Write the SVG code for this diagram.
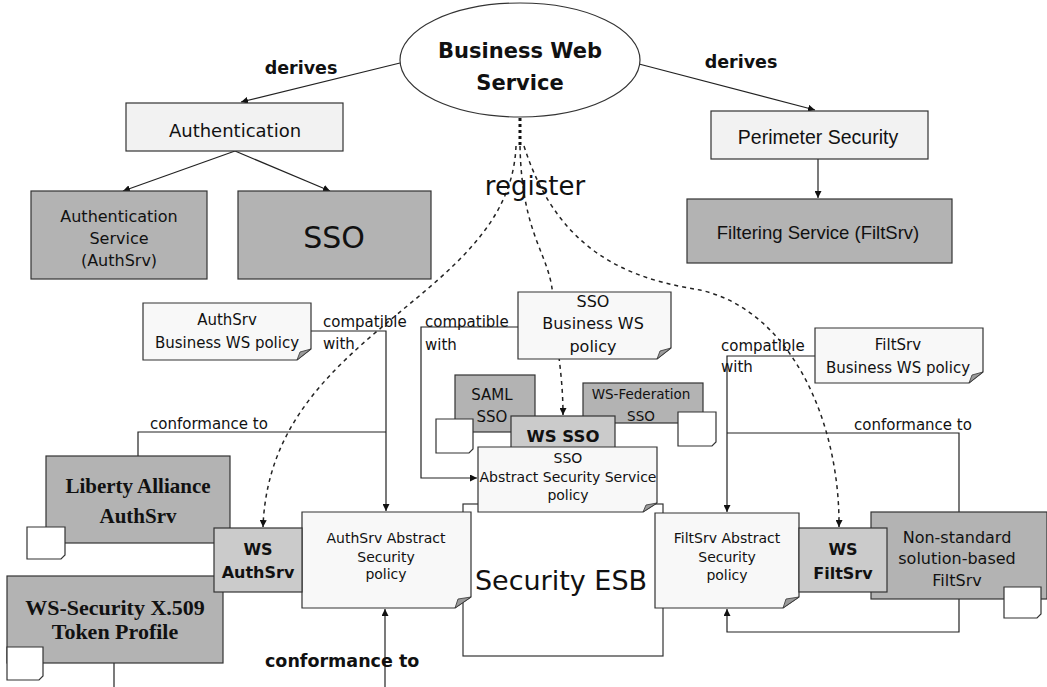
<svg xmlns="http://www.w3.org/2000/svg" width="1047" height="687" viewBox="0 0 1047 687">
  <defs>
    <marker id="arrow" viewBox="0 0 10 10" refX="10" refY="5" markerWidth="7" markerHeight="7" orient="auto-start-reverse" markerUnits="userSpaceOnUse">
      <path d="M0,0 L10,5 L0,10 Z" fill="#111"/>
    </marker>
    <style>
      .t { font-family: "DejaVu Sans", sans-serif; fill: #111; text-anchor: middle; }
      .ts { font-family: "DejaVu Sans", sans-serif; fill: #111; text-anchor: start; }
      .tb { font-family: "DejaVu Sans", sans-serif; font-weight: bold; fill: #111; text-anchor: middle; }
      .ta { font-family: "Liberation Sans", Arial, sans-serif; fill: #111; text-anchor: middle; }
      .tserif { font-family: "Liberation Serif", "Times New Roman", serif; font-weight: bold; fill: #111; text-anchor: middle; }
      .light { fill: #f2f2f2; stroke: #333; stroke-width: 1.2; }
      .dark { fill: #b3b3b3; stroke: #333; stroke-width: 1.2; }
      .mid { fill: #cbcbcb; stroke: #333; stroke-width: 1.2; }
      .note { fill: #f8f8f8; stroke: #333; stroke-width: 1.2; }
      .icon { fill: #ffffff; stroke: #333; stroke-width: 1.2; }
      .fold { fill: #9a9a9a; stroke: #333; stroke-width: 0.8; }
      .line { fill: none; stroke: #222; stroke-width: 1.2; }
      .dash { fill: none; stroke: #222; stroke-width: 1.5; stroke-dasharray: 4 4; }
    </style>
  </defs>

  <rect width="1047" height="687" fill="#ffffff"/>

  <!-- connectors -->
  <g id="connectors">
    <line class="line" x1="400" y1="63" x2="241" y2="102" marker-end="url(#arrow)"/>
    <line class="line" x1="639" y1="64" x2="815" y2="110" marker-end="url(#arrow)"/>
    <line class="line" x1="235" y1="151" x2="123" y2="191" marker-end="url(#arrow)"/>
    <line class="line" x1="235" y1="151" x2="330" y2="191" marker-end="url(#arrow)"/>
    <line class="line" x1="818" y1="159" x2="818" y2="198" marker-end="url(#arrow)"/>
    <!-- register links -->
    <line x1="520" y1="118" x2="520" y2="146" stroke="#111" stroke-width="3" stroke-dasharray="3 3"/>
    <path class="dash" d="M516,146 C510,300 270,330 263,527" marker-end="url(#arrow)"/>
    <path class="dash" d="M520,146 C522,240 552,255 553,300 C555,340 563,370 563,415" marker-end="url(#arrow)"/>
    <path class="dash" d="M524,146 C560,260 640,280 700,290 C790,310 840,420 839,527" marker-end="url(#arrow)"/>
    <!-- policy relations -->
    <path class="line" d="M311,331 H386 V511" marker-end="url(#arrow)"/>
    <path class="line" d="M138,456 V432 H386"/>
    <path class="line" d="M518,327 H421 V478 H477" marker-end="url(#arrow)"/>
    <path class="line" d="M815,356 H727 V512" marker-end="url(#arrow)"/>
    <path class="line" d="M959,512 V433 H727"/>
    <path class="line" d="M959,599 V632 H727 V609" marker-end="url(#arrow)"/>
    <path class="line" d="M385,687 V609" marker-end="url(#arrow)"/>
    <path class="line" d="M114,663 V687"/>
  </g>

  <!-- connector labels -->
  <g id="labels">
    <text class="tb" x="301" y="74" font-size="17.5">derives</text>
    <text class="tb" x="741" y="68" font-size="17.5">derives</text>
    <text class="t" x="535" y="195" font-size="26">register</text>
    <text class="ts" x="323" y="327" font-size="15">compatible</text>
    <text class="ts" x="323" y="349" font-size="15">with</text>
    <text class="ts" x="425" y="327" font-size="15">compatible</text>
    <text class="ts" x="425" y="350" font-size="15">with</text>
    <text class="ts" x="721" y="351" font-size="15">compatible</text>
    <text class="ts" x="721" y="372" font-size="15">with</text>
    <text class="ts" x="150" y="429" font-size="15">conformance to</text>
    <text class="ts" x="854" y="430" font-size="15">conformance to</text>
    <text class="ts" x="265" y="667" font-size="17.5" font-weight="bold">conformance to</text>
  </g>

  <!-- Business Web Service -->
  <g id="business-ws">
    <ellipse cx="520" cy="60" rx="120" ry="57" fill="#ffffff" stroke="#333" stroke-width="1.2"/>
    <text class="tb" x="520" y="58" font-size="21">Business Web</text>
    <text class="tb" x="520" y="90" font-size="21">Service</text>
  </g>

  <g id="authentication">
    <rect class="light" x="126" y="103" width="217" height="48"/>
    <text class="t" x="235" y="137" font-size="18">Authentication</text>
  </g>

  <g id="authsrv">
    <rect class="dark" x="31" y="191" width="176" height="88"/>
    <text class="t" x="119" y="222" font-size="16">Authentication</text>
    <text class="t" x="119" y="244" font-size="16">Service</text>
    <text class="t" x="119" y="266" font-size="16">(AuthSrv)</text>
  </g>

  <g id="sso">
    <rect class="dark" x="238" y="191" width="193" height="88"/>
    <text class="t" x="334" y="248" font-size="30">SSO</text>
  </g>

  <g id="perimeter">
    <rect class="light" x="711" y="111" width="217" height="48"/>
    <text class="ta" x="818" y="144" font-size="19.5">Perimeter Security</text>
  </g>

  <g id="filtsrv">
    <rect class="dark" x="687" y="199" width="265" height="64"/>
    <text class="ta" x="818" y="239" font-size="18.5">Filtering Service (FiltSrv)</text>
  </g>

  <!-- business WS policies -->
  <g id="authsrv-bws-policy">
    <path class="note" d="M143,303 H311 V349 L297,360 H143 Z"/>
    <path class="fold" d="M311,349 L297,360 L300,352 Z"/>
    <text class="t" x="227" y="325" font-size="15">AuthSrv</text>
    <text class="t" x="227" y="348" font-size="15">Business WS policy</text>
  </g>

  <g id="sso-bws-policy">
    <path class="note" d="M518,292 H671 V348 L657,359 H518 Z"/>
    <path class="fold" d="M671,348 L657,359 L660,351 Z"/>
    <text class="t" x="593" y="307" font-size="16">SSO</text>
    <text class="t" x="593" y="329" font-size="16">Business WS</text>
    <text class="t" x="593" y="352" font-size="16">policy</text>
  </g>

  <g id="filtsrv-bws-policy">
    <path class="note" d="M815,328 H983 V372 L969,383 H815 Z"/>
    <path class="fold" d="M983,372 L969,383 L972,375 Z"/>
    <text class="t" x="898" y="350" font-size="15">FiltSrv</text>
    <text class="t" x="898" y="373" font-size="15">Business WS policy</text>
  </g>

  <!-- Security ESB -->
  <g id="security-esb">
    <rect x="463" y="504" width="200" height="152" fill="#ffffff" stroke="#333" stroke-width="1.2"/>
    <text class="t" x="561" y="590" font-size="27">Security ESB</text>
  </g>

  <g id="saml-sso">
    <rect class="dark" x="455" y="375" width="80" height="57"/>
    <text class="t" x="492" y="400" font-size="15">SAML</text>
    <text class="t" x="492" y="422" font-size="15">SSO</text>
    <path class="icon" d="M436,419 H473 V449 L469,453 H436 Z"/>
  </g>

  <g id="wsfed-sso">
    <rect class="dark" x="583" y="383" width="120" height="40"/>
    <text class="t" x="641" y="399" font-size="13.5">WS-Federation</text>
    <text class="t" x="641" y="421" font-size="13.5">SSO</text>
    <path class="icon" d="M678,412 H716 V442 L712,446 H678 Z"/>
  </g>

  <g id="ws-sso">
    <rect class="mid" x="511" y="416" width="104" height="34"/>
    <text class="tb" x="563" y="442" font-size="16.5">WS SSO</text>
  </g>

  <g id="sso-abstract-policy">
    <path class="note" d="M478,447 H657 V503 L643,512 H478 Z"/>
    <path class="fold" d="M657,503 L643,512 L646,505 Z"/>
    <text class="t" x="568" y="463" font-size="14">SSO</text>
    <text class="t" x="568" y="482" font-size="14">Abstract Security Service</text>
    <text class="t" x="568" y="500" font-size="14">policy</text>
  </g>

  <g id="authsrv-abstract-policy">
    <path class="note" d="M302,512 H471 V597 L455,608 H302 Z"/>
    <path class="fold" d="M471,597 L455,608 L458,599 Z"/>
    <text class="t" x="386" y="543" font-size="14">AuthSrv Abstract</text>
    <text class="t" x="386" y="562" font-size="14">Security</text>
    <text class="t" x="386" y="579" font-size="14">policy</text>
  </g>

  <g id="filtsrv-abstract-policy">
    <path class="note" d="M655,513 H799 V597 L783,608 H655 Z"/>
    <path class="fold" d="M799,597 L783,608 L786,599 Z"/>
    <text class="t" x="727" y="543" font-size="14">FiltSrv Abstract</text>
    <text class="t" x="727" y="562" font-size="14">Security</text>
    <text class="t" x="727" y="580" font-size="14">policy</text>
  </g>

  <g id="liberty-authsrv">
    <rect class="dark" x="46" y="456" width="184" height="87"/>
    <text class="tserif" x="138" y="493" font-size="21">Liberty Alliance</text>
    <text class="tserif" x="138" y="523" font-size="21">AuthSrv</text>
    <path class="icon" d="M27,527 H65 V555 L61,559 H27 Z"/>
  </g>

  <g id="ws-security-x509">
    <rect class="dark" x="7" y="576" width="216" height="87"/>
    <text class="tserif" x="115" y="615" font-size="22">WS-Security X.509</text>
    <text class="tserif" x="115" y="639" font-size="22">Token Profile</text>
    <path class="icon" d="M7,647 H43 V676 L39,680 H7 Z"/>
  </g>

  <g id="ws-authsrv">
    <rect class="mid" x="214" y="528" width="88" height="64"/>
    <text class="tb" x="258" y="555" font-size="16">WS</text>
    <text class="tb" x="258" y="578" font-size="16">AuthSrv</text>
  </g>

  <g id="nonstandard-filtsrv">
    <rect class="dark" x="871" y="512" width="176" height="87"/>
    <text class="t" x="957" y="543" font-size="16">Non-standard</text>
    <text class="t" x="957" y="564" font-size="16">solution-based</text>
    <text class="t" x="957" y="586" font-size="16">FiltSrv</text>
    <path class="icon" d="M1004,587 H1041 V614 L1037,618 H1004 Z"/>
  </g>

  <g id="ws-filtsrv">
    <rect class="mid" x="799" y="528" width="88" height="64"/>
    <text class="tb" x="843" y="555" font-size="16">WS</text>
    <text class="tb" x="843" y="579" font-size="16">FiltSrv</text>
  </g>
</svg>
